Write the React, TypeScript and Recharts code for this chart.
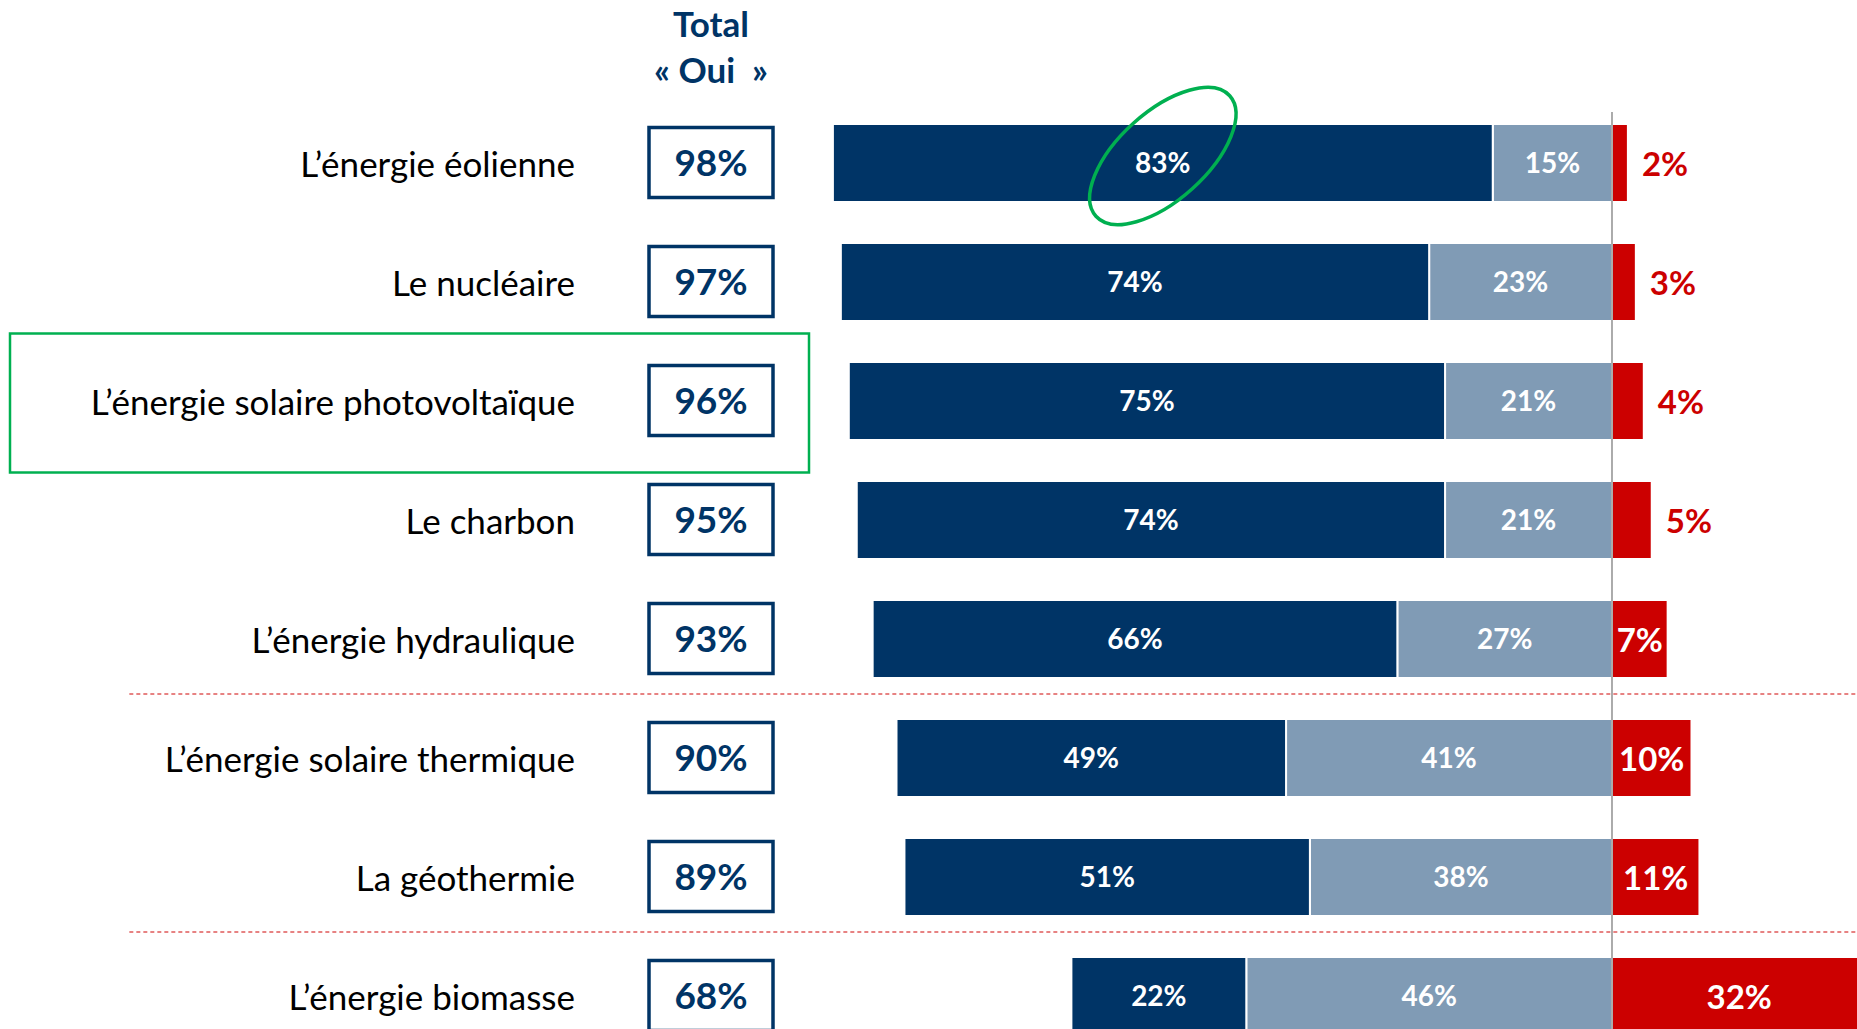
import React from "react";
import { BarChart, Bar, XAxis, YAxis, ReferenceLine, LabelList } from "recharts";

const categories = [
  "L’énergie éolienne",
  "Le nucléaire",
  "L’énergie solaire photovoltaïque",
  "Le charbon",
  "L’énergie hydraulique",
  "L’énergie solaire thermique",
  "La géothermie",
  "L’énergie biomasse",
];
const totalOui = [98, 97, 96, 95, 93, 90, 89, 68];
const ouiBeaucoup = [83, 74, 75, 74, 66, 49, 51, 22];
const ouiUnPeu = [15, 23, 21, 21, 27, 41, 38, 46];
const non = [2, 3, 4, 5, 7, 10, 11, 32];

// dotted separators drawn under these rows
const separatorsAfter = ["L’énergie hydraulique", "La géothermie"];
const framedCategory = "L’énergie solaire photovoltaïque";
const circledIndex = 0;

const NAVY = "#003466";
const GREY_BLUE = "#809bb5";
const RED = "#cc0000";
const GREEN = "#00b050";
const FONT = "Lato, 'Open Sans', sans-serif";

const rows = categories.map((name, i) => ({
  name,
  total: totalOui[i],
  beaucoup: ouiBeaucoup[i],
  unPeu: ouiUnPeu[i],
  non: non[i],
  // "oui" parts go left of zero
  beaucoupNeg: -ouiBeaucoup[i],
  unPeuNeg: -ouiUnPeu[i],
}));

function CategoryTick(props: any) {
  const { y, payload } = props;
  const row = rows.find((r) => r.name === payload.value);
  return (
    <g>
      {payload.value === framedCategory && (
        <rect x={10} y={y - 67} width={799} height={139} fill="none" stroke={GREEN} strokeWidth={2.5} />
      )}
      <text x={575} y={y + 14} textAnchor="end" fontFamily={FONT} fontSize={35} fill="#000">
        {payload.value}
      </text>
      <rect x={649} y={y - 35} width={124} height={70} fill="#fff" stroke={NAVY} strokeWidth={3.5} />
      <text x={711} y={y + 13} textAnchor="middle" fontFamily={FONT} fontWeight={700} fontSize={37} fill={NAVY}>
        {row?.total}%
      </text>
    </g>
  );
}

function box(props: any) {
  const vb = props.viewBox || {};
  const x = props.x ?? vb.x;
  const y = props.y ?? vb.y;
  const width = props.width ?? vb.width;
  const height = props.height ?? vb.height;
  return { x, y, width, height };
}

const greyLabel = (props: any) => {
  const { x, y, width, height } = box(props);
  return (
    <text x={x + width / 2} y={y + height / 2 + 10} textAnchor="middle" fontFamily={FONT} fontWeight={700} fontSize={28} fill="#fff">
      {props.value}%
    </text>
  );
};

const navyLabel = (props: any) => {
  const { x, y, width, height } = box(props);
  const cx = x + width / 2;
  const cy = y + height / 2;
  return (
    <g>
      <text x={cx} y={cy + 10} textAnchor="middle" fontFamily={FONT} fontWeight={700} fontSize={28} fill="#fff">
        {props.value}%
      </text>
      {props.index === circledIndex && (
        <ellipse
          cx={cx}
          cy={cy - 7}
          rx={90}
          ry={44}
          transform={`rotate(-42 ${cx} ${cy - 7})`}
          fill="none"
          stroke={GREEN}
          strokeWidth={3.5}
        />
      )}
    </g>
  );
};

const nonLabel = (props: any) => {
  const { x, y, width, height } = box(props);
  const inside = width > 45;
  return (
    <text
      x={inside ? x + width / 2 : x + width + 14}
      y={y + height / 2 + 13}
      textAnchor={inside ? "middle" : "start"}
      fontFamily={FONT}
      fontWeight={700}
      fontSize={33}
      fill={inside ? "#fff" : RED}
    >
      {props.value}%
    </text>
  );
};

// zero line starts a little below the top of the plot
const zeroLine = (p: any) => (
  <line x1={p.x1} y1={Math.min(p.y1, p.y2) + 9} x2={p.x2} y2={Math.max(p.y1, p.y2)} stroke="#7f7f7f" strokeWidth={1.3} />
);

// dotted separator sits slightly above the band edge
const dottedLine = (p: any) => (
  <line x1={p.x1} y1={p.y1 - 4} x2={p.x2} y2={p.y2 - 4} stroke="#e05a5a" strokeWidth={1.5} strokeDasharray="4 3" />
);

export default function App() {
  return (
    <div
      style={{
        position: "absolute",
        left: 0,
        top: 0,
        width: 1857,
        height: 1029,
        overflow: "hidden",
        background: "#fff",
      }}
    >
      <BarChart
        width={1930}
        height={1055}
        data={rows}
        layout="vertical"
        stackOffset="sign"
        margin={{ top: 103, right: 0, bottom: 0, left: 0 }}
      >
        <XAxis type="number" domain={[-100, 40]} allowDataOverflow hide />
        <YAxis
          type="category"
          dataKey="name"
          width={817}
          interval={0}
          tickLine={false}
          axisLine={false}
          tick={(p: any) => <CategoryTick {...p} />}
        />
        <Bar dataKey="unPeuNeg" stackId="a" fill={GREY_BLUE} stroke="#fff" strokeWidth={2} barSize={78} isAnimationActive={false}>
          <LabelList dataKey="unPeu" content={greyLabel} />
        </Bar>
        <Bar dataKey="beaucoupNeg" stackId="a" fill={NAVY} stroke="#fff" strokeWidth={2} barSize={78} isAnimationActive={false}>
          <LabelList dataKey="beaucoup" content={navyLabel} />
        </Bar>
        <Bar dataKey="non" stackId="a" fill={RED} stroke="#fff" strokeWidth={2} barSize={78} isAnimationActive={false}>
          <LabelList dataKey="non" content={nonLabel} />
        </Bar>
        <ReferenceLine x={0} stroke="#7f7f7f" strokeWidth={1.3} shape={zeroLine} />
        {separatorsAfter.map((cat) => (
          <ReferenceLine
            key={cat}
            segment={[
              { x: -186.5, y: cat },
              { x: 40, y: cat },
            ]}
            position="end"
            ifOverflow="visible"
            stroke="#e05a5a"
            shape={dottedLine}
          />
        ))}
      </BarChart>
      <svg width={1857} height={100} style={{ position: "absolute", left: 0, top: 0 }}>
        <text x={711} y={37} textAnchor="middle" fontFamily={FONT} fontWeight={700} fontSize={35} fill={NAVY}>
          Total
        </text>
        <text x={711} y={83} textAnchor="middle" fontFamily={FONT} fontWeight={700} fontSize={35} fill={NAVY}>
          {"« Oui\u00A0\u00A0»"}
        </text>
      </svg>
    </div>
  );
}
